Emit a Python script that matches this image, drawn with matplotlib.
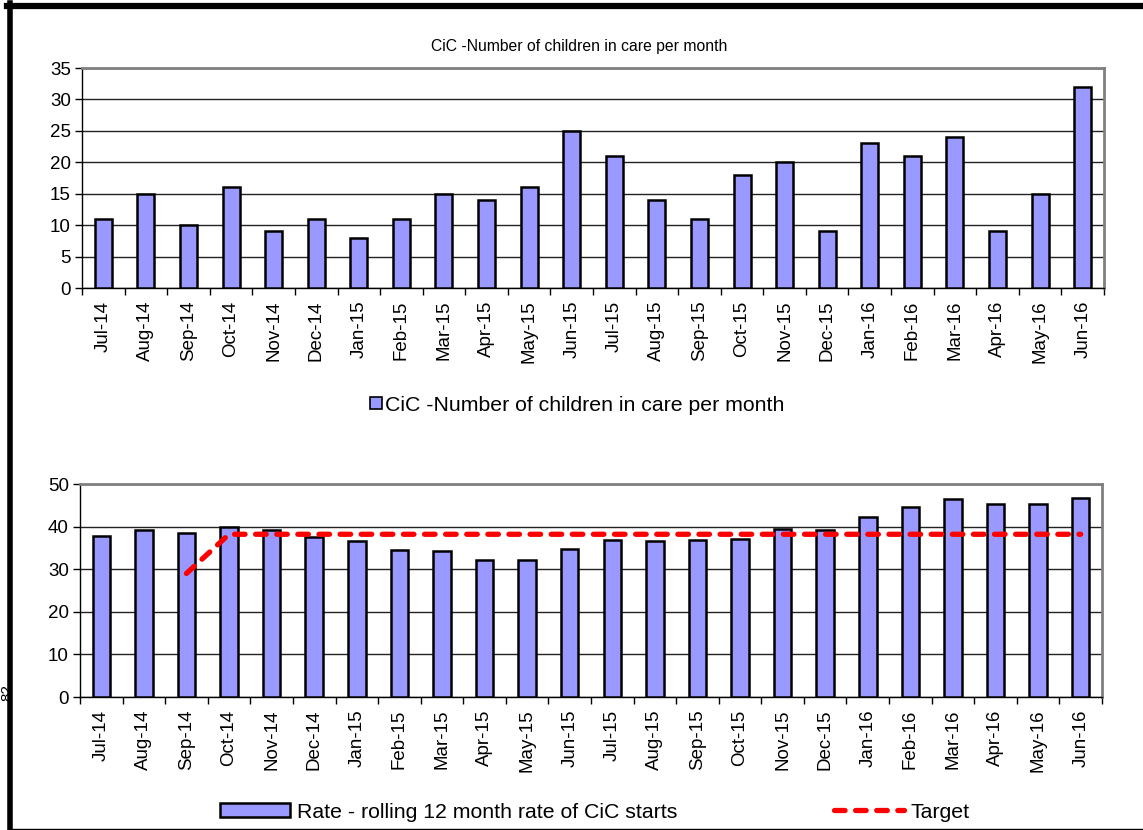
import matplotlib
matplotlib.use("Agg")
import matplotlib.pyplot as plt
import numpy as np
from matplotlib.patches import Patch
from matplotlib.lines import Line2D

plt.rcParams['font.family'] = ['Liberation Sans', 'DejaVu Sans']

months = ["Jul-14", "Aug-14", "Sep-14", "Oct-14", "Nov-14", "Dec-14", "Jan-15", "Feb-15",
          "Mar-15", "Apr-15", "May-15", "Jun-15", "Jul-15", "Aug-15", "Sep-15", "Oct-15",
          "Nov-15", "Dec-15", "Jan-16", "Feb-16", "Mar-16", "Apr-16", "May-16", "Jun-16"]
cic_counts = [11, 15, 10, 16, 9, 11, 8, 11, 15, 14, 16, 25, 21, 14, 11, 18, 20, 9, 23, 21, 24, 9, 15, 32]
rolling_rate = [37.7, 39.2, 38.4, 39.9, 39.2, 37.5, 36.6, 34.4, 34.2, 32.1, 32.1, 34.7,
                36.8, 36.6, 36.8, 37.1, 39.5, 39.1, 42.3, 44.5, 46.4, 45.4, 45.2, 46.6]
target = [np.nan, np.nan, 29.0] + [38.2] * 21

top_title = "CiC -Number of children in care per month"
top_legend = "CiC -Number of children in care per month"
bar_legend = "Rate - rolling 12 month rate of CiC starts"
line_legend = "Target"

BAR = "#9999FF"
W, H = 1143, 830
fig = plt.figure(figsize=(W / 100, H / 100), dpi=100)

TICK_FS = 13.5
LEG_FS = 15.3

def style_axes(ax, ymax, step):
    x = np.arange(len(months))
    ax.set_xlim(-0.5, len(months) - 0.5)
    ax.set_ylim(0, ymax)
    ax.set_yticks(np.arange(0, ymax + 1, step))
    ax.set_xticks(x)
    ax.set_xticklabels(months, rotation=90, fontsize=TICK_FS)
    ax.tick_params(axis='x', which='major', length=0, pad=9)
    ax.set_xticks(np.arange(-0.5, len(months), 1), minor=True)
    ax.tick_params(axis='x', which='minor', length=5, width=1, color='black', direction='out')
    ax.tick_params(axis='y', length=5, width=1, labelsize=TICK_FS, pad=3)
    ax.grid(axis='y', color='#222222', linewidth=1)
    ax.set_axisbelow(True)
    for s in ['top', 'right']:
        ax.spines[s].set_color('#808080')
        ax.spines[s].set_linewidth(2)
    for s in ['left', 'bottom']:
        ax.spines[s].set_color('black')
        ax.spines[s].set_linewidth(1)

x = np.arange(len(months))

# Top chart
ax1 = fig.add_axes([82 / W, 1 - 288 / H, (1104 - 82) / W, (288 - 68) / H])
ax1.bar(x, cic_counts, width=0.4, color=BAR, edgecolor='black', linewidth=1.8, zorder=3)
style_axes(ax1, 35, 5)
fig.text(0.507, 1 - 47 / H, top_title, ha='center', va='center', fontsize=11.3)
fig.legend(handles=[Patch(facecolor=BAR, edgecolor='black', linewidth=1.2, label=top_legend)],
           loc='center', bbox_to_anchor=(577 / W, 1 - 405 / H), frameon=False, fontsize=LEG_FS,
           handlelength=0.55, handleheight=0.55, handletextpad=0.15)

# Bottom chart
ax2 = fig.add_axes([80 / W, 1 - 697 / H, (1102 - 80) / W, (697 - 484) / H])
ax2.bar(x, rolling_rate, width=0.41, color=BAR, edgecolor='black', linewidth=1.8, zorder=3)
ax2.plot(x, target, color='#FF0000', linewidth=3.8, dashes=(2, 2), dash_capstyle='round', zorder=4)
style_axes(ax2, 50, 10)
handles = [Patch(facecolor=BAR, edgecolor='black', linewidth=1.8, label=bar_legend),
           Line2D([], [], color='#FF0000', linewidth=3.8, dashes=(2, 2), dash_capstyle='round',
                  label=line_legend)]
fig.legend(handles=handles, loc='center', bbox_to_anchor=(595 / W, 1 - 812 / H), ncol=2,
           frameon=False, fontsize=LEG_FS, handlelength=3.3, handleheight=0.6,
           handletextpad=0.3, columnspacing=7.4)

# Page border / artefacts
fig.text(0.5 / W, 1 - 692 / H, "82", rotation=90, fontsize=11, ha='left', va='center')
fig.add_artist(Line2D([9.5 / W, 9.5 / W], [0, 1 - 3 / H], color='black', linewidth=4,
                      transform=fig.transFigure, zorder=10))
fig.add_artist(Line2D([7 / W, 1], [1 - 6 / H, 1 - 6 / H], color='black', linewidth=4.5,
                      transform=fig.transFigure, zorder=10))
fig.add_artist(Line2D([12 / W, 1], [1 - 828.5 / H, 1 - 828.5 / H], color='black', linewidth=1,
                      transform=fig.transFigure, zorder=10))

fig.savefig("out.png", dpi=100)
